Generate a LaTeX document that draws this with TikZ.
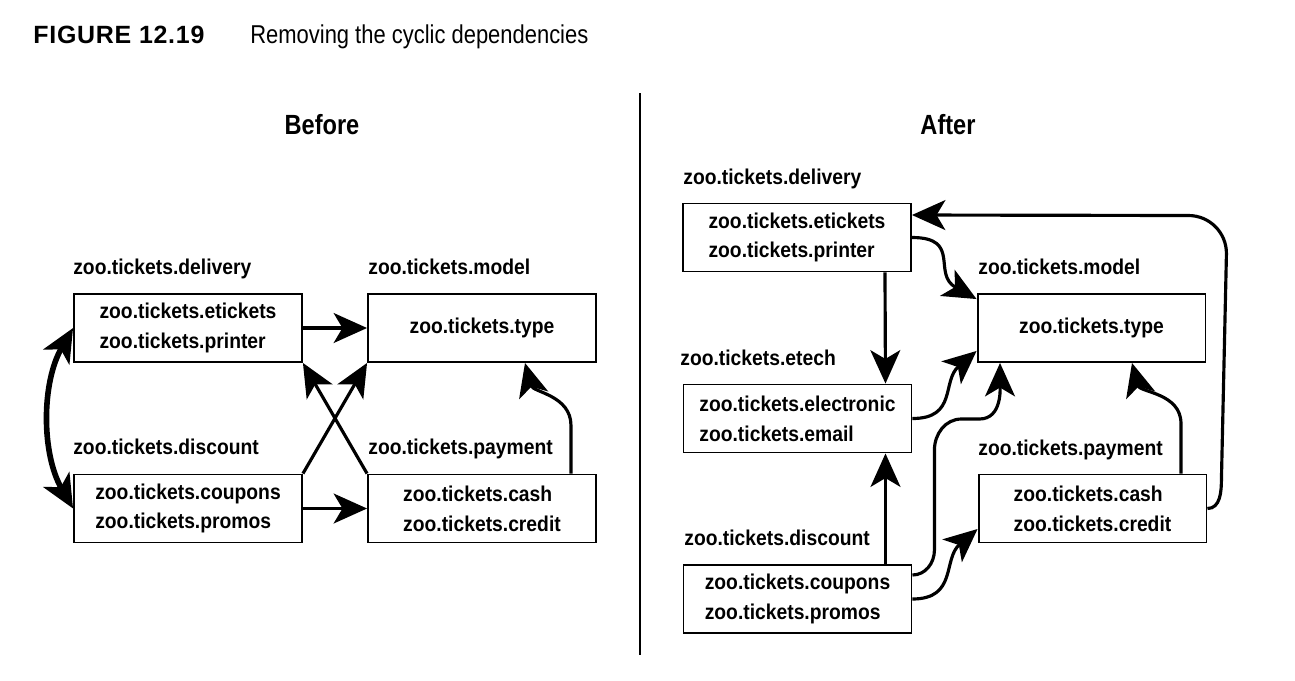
\documentclass[tikz,border=0pt]{standalone}
\usepackage{fontspec}
\setmainfont{Liberation Sans}
\newfontfamily\headfont[FakeStretch=0.85]{Liberation Sans}
\newfontfamily\pkgfont[FakeStretch=0.9]{Liberation Sans}
\newfontfamily\figfont[LetterSpace=3]{Liberation Sans}
\usetikzlibrary{arrows.meta,positioning}

\tikzset{
  pkg/.style={anchor=base west, inner sep=0pt, font=\pkgfont\bfseries\fontsize{12.2}{13}\selectfont},
  box/.style={draw, line width=1.1pt, minimum width=4.56cm, minimum height=1.36cm,
    inner sep=0pt, align=left, font=\pkgfont\bfseries\fontsize{12.2}{17}\selectfont},
  dep/.style={->, line width=1.8pt},
  cyc/.style={<->, line width=3.2pt},
  heading/.style={anchor=base, inner sep=0pt, font=\headfont\bfseries\fontsize{15.8}{18}\selectfont},
}

\begin{document}
\begin{tikzpicture}[x=0.02cm, y=0.02cm, >={Stealth[length=19pt,width=17pt,inset=5pt]}]
\useasboundingbox (0,0) rectangle (1295,-680);
% caption
\node[anchor=base west, inner sep=0pt, font=\figfont\bfseries\fontsize{14.2}{15}\selectfont] (fig) at (33,-43) {FIGURE 12.19};
\node[anchor=base west, inner sep=0pt, font=\headfont\fontsize{14.7}{16}\selectfont] (cap) at (250,-43) {Removing the cyclic dependencies};
\draw[line width=1.1pt] (640,-93) -- (640,-655);

% before
\node[heading] (before) at (322,-134) {Before};
\node[pkg] (lDel) at (73,-274) {zoo.tickets.delivery};
\node[pkg] (lMod) at (368,-274) {zoo.tickets.model};
\node[pkg] (lDis) at (73,-454) {zoo.tickets.discount};
\node[pkg] (lPay) at (368,-454) {zoo.tickets.payment};
\node[box] (D) at (188,-328) {zoo.tickets.etickets\\zoo.tickets.printer};
\node[box] (M) at (482,-328) {zoo.tickets.type};
\node[box] (C) at (188,-508.5) {zoo.tickets.coupons\\zoo.tickets.promos};
\node[box] (P) at (482,-508.5) {zoo.tickets.cash\\zoo.tickets.credit};
\draw[dep] (D) -- (M);
\draw[dep] (C) -- (P);
\draw[dep] (C.north east) -- (M.south west);
\draw[dep] (P.north west) -- (D.south east);
\draw[dep] ([xshift=1.78cm]P.north) -- ++(0,48) to[out=90,in=-75] ([xshift=0.86cm]M.south);
\draw[cyc] (D.west) to[out=240,in=120,looseness=0.9] (C.west);

% after
\node[heading] (after) at (948,-134) {After};
\node[pkg] (lDel2) at (683,-184) {zoo.tickets.delivery};
\node[pkg] (lEte) at (680,-365) {zoo.tickets.etech};
\node[pkg] (lDis2) at (684,-545) {zoo.tickets.discount};
\node[pkg] (lMod2) at (978,-274) {zoo.tickets.model};
\node[pkg] (lPay2) at (978,-455) {zoo.tickets.payment};
\node[box] (D2) at (797,-237.5) {zoo.tickets.etickets\\zoo.tickets.printer};
\node[box] (E) at (797.5,-418.5) {zoo.tickets.electronic\\zoo.tickets.email};
\node[box] (C2) at (797.5,-599) {zoo.tickets.coupons\\zoo.tickets.promos};
\node[box] (M2) at (1091.5,-328) {zoo.tickets.type};
\node[box] (P2) at (1092.5,-508.5) {zoo.tickets.cash\\zoo.tickets.credit};
\draw[dep] ([xshift=1.76cm]D2.south) -- ([xshift=1.76cm]E.north);
\draw[dep] ([xshift=1.76cm]C2.north) -- ([xshift=1.76cm]E.south);
\draw[dep] (D2.east) .. controls +(50,0) and +(-45,25) .. ([yshift=-0.12cm]M2.north west);
\draw[dep] (E.east) .. controls +(45,0) and +(-35,-30) .. ([yshift=0.24cm]M2.south west);
\draw[dep] ([yshift=0.48cm]C2.east) to[out=0,in=-90] ++(22,25) -- ++(0,100)
  to[out=90,in=180] ++(27,31) -- ++(18,0) to[out=0,in=-90] ([xshift=-1.83cm]M2.south);
\draw[dep] (C2.east) .. controls +(45,0) and +(-35,-30) .. ([yshift=-0.41cm]P2.west);
\draw[dep] ([xshift=1.77cm]P2.north) -- ++(0,50) to[out=90,in=-75] ([xshift=0.81cm]M2.south);
\draw[dep] (P2.east) to[out=0,in=-90] ++(14,30) -- ++(5,225) to[out=90,in=0] ++(-38,38)
  -- ([yshift=0.45cm]D2.east);
\end{tikzpicture}
\end{document}
